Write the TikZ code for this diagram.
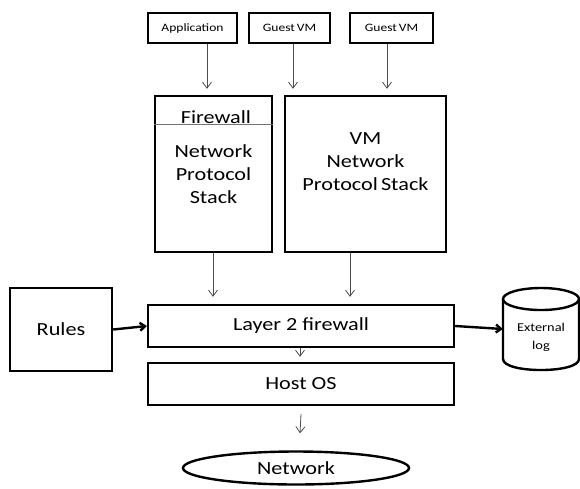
\documentclass[tikz,border=0pt]{standalone}
\usepackage{fontspec}
\setmainfont[FakeStretch=1.2]{Carlito}
\usetikzlibrary{arrows.meta,shapes.geometric}
\begin{document}
\begin{tikzpicture}[x=1pt,y=-1pt,
  box/.style={draw, line width=2.4pt, rectangle, inner sep=0pt, align=center},
  small/.style={font=\fontsize{11.3}{13}\selectfont},
  big/.style={font=\fontsize{18.5}{23}\selectfont, align=center},
  mid/.style={font=\fontsize{18.5}{22}\selectfont},
  thin/.style={draw=black!70, line width=0.8pt, -{Straight Barb[length=6pt,width=9pt]}},
  thick/.style={draw, line width=2.4pt, -{Straight Barb[length=5pt,width=8pt]}}]
\useasboundingbox (0,0) rectangle (580,488);
\node[box, small, minimum width=89pt, minimum height=30pt] (app) at (192.5,28) {Application};
\node[box, small, minimum width=81pt, minimum height=30pt] (g1) at (289.5,28) {Guest\,VM};
\node[box, small, minimum width=83pt, minimum height=30pt] (g2) at (391.5,28) {Guest\,VM};
\node[box, minimum width=117pt, minimum height=156pt] (fw) at (213.5,174) {};
\node[big] (fwt) at (216,117) {Firewall};
\node[big] (nps) at (213.5,174) {Network\\Protocol\\Stack};
\draw[black!55, line width=1pt] (fw.north west) ++(0,30) coordinate (sl) -- (sl -| fw.east);
\node[box, minimum width=161pt, minimum height=156pt] (vm) at (365.5,174) {};
\node[big] (vmt) at (365.5,162) {VM\\Network\\Protocol\,Stack};
\node[box, mid, minimum width=306pt, minimum height=42pt] (l2) at (301,326) {Layer 2 firewall};
\node[box, mid, minimum width=306pt, minimum height=42pt] (host) at (301,384) {Host OS};
\node[box, mid, minimum width=102pt, minimum height=83pt] (rules) at (61,329.5) {Rules};
\node[draw, line width=2.4pt, ellipse, minimum width=226pt, minimum height=33pt, inner sep=0pt, mid] (net) at (296,468) {Network};
% external log cylinder
\node[rectangle, minimum width=76pt, minimum height=82pt, inner sep=0pt] (log) at (541,329) {};
\draw[line width=2.4pt] (541,299) ellipse [x radius=38pt, y radius=11pt];
\draw[line width=2.4pt, line join=round] (503,299) -- (503,359) .. controls (503,373.7) and (579,373.7) .. (579,359) -- (579,299);
\node[align=center, font=\fontsize{12}{18}\selectfont] (logt) at (541,337) {External\\log};
\draw[thin] ([xshift=14.5pt]app.south) -- ([xshift=-6.5pt,yshift=6pt]fw.north);
\draw[thin] ([xshift=3.5pt]g1.south) -- ([xshift=-72.5pt,yshift=6pt]vm.north);
\draw[thin] ([xshift=-4.5pt]g2.south) -- ([xshift=21.5pt,yshift=6pt]vm.north);
\draw[thin] ([xshift=-0.5pt]fw.south) -- ([xshift=-88pt,yshift=7pt]l2.north);
\draw[thin] ([xshift=-15.5pt]vm.south) -- ([xshift=49pt,yshift=7pt]l2.north);
\draw[thin] ([xshift=-1pt]l2.south) -- ([xshift=-1pt,yshift=5pt]host.north);
\draw[thin] ([xshift=0pt,yshift=-8pt]host.south) -- ([xshift=4pt,yshift=17pt]net.north);
\draw[thick] (rules.east) -- (l2.west);
\draw[thick] (l2.east) -- (log.west);
\end{tikzpicture}
\end{document}
